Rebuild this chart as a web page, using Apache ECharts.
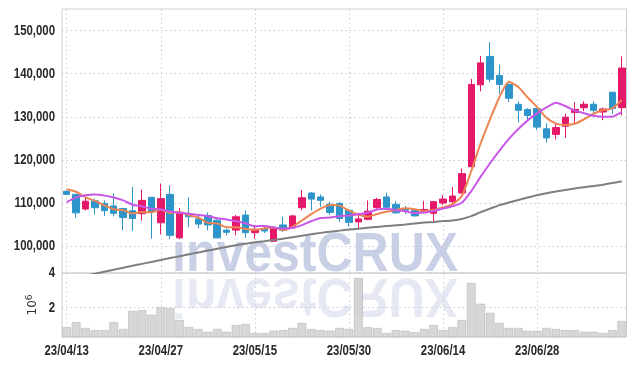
<!DOCTYPE html>
<html><head><meta charset="utf-8">
<script src="https://cdn.jsdelivr.net/npm/echarts@6/dist/echarts.min.js"></script>
<style>html,body{margin:0;padding:0;background:#fff}#c{width:635px;height:366px}</style>
</head><body><div id="c"></div>
<script>
const dates = ['23/04/13','23/04/14','23/04/17','23/04/18','23/04/19','23/04/20','23/04/21','23/04/24','23/04/25','23/04/26',
'23/04/27','23/04/28','23/05/02','23/05/03','23/05/04','23/05/08','23/05/09','23/05/10','23/05/11','23/05/12',
'23/05/15','23/05/16','23/05/17','23/05/18','23/05/19','23/05/22','23/05/23','23/05/24','23/05/25','23/05/26',
'23/05/30','23/05/31','23/06/01','23/06/02','23/06/05','23/06/07','23/06/08','23/06/09','23/06/12','23/06/13',
'23/06/14','23/06/15','23/06/16','23/06/19','23/06/20','23/06/21','23/06/22','23/06/23','23/06/26','23/06/27',
'23/06/28','23/06/29','23/06/30','23/07/03','23/07/04','23/07/05','23/07/06','23/07/07','23/07/10','23/07/11'];
const opens = [112700,112000,108600,110500,109900,109300,108700,108200,107500,111300,
105400,112000,101900,107400,106300,107100,106000,103700,103700,107200,
103100,103900,101100,104900,104200,108900,112300,111400,109700,109900,
108300,105600,106200,108900,111400,109700,108700,108300,107900,107600,
110000,110300,112300,118400,137400,144000,139600,137500,132900,131700,
131900,127200,125900,127800,131000,132100,132900,131100,135700,132100];
const closes = [112000,107700,110400,108900,108200,107600,106600,106400,110600,107900,
111000,102500,107600,106800,105100,104900,101900,103200,106800,103100,
103900,103500,104300,103700,107000,111200,110900,110600,107800,106400,
105500,106300,108100,110800,109000,107700,108300,107000,108500,110300,
110900,111600,116800,137500,142500,138700,137500,134300,131500,130300,
127600,125100,127500,129900,131700,132900,131500,131800,131900,141300];
const lows = [111800,106600,108300,107300,107000,106900,103700,103500,105900,101700,
102700,101600,101600,104400,104100,103700,101800,102500,102500,101900,
101700,103000,101000,103300,104000,108300,108300,109100,107200,105600,
104600,104200,106000,108300,108300,107500,107400,106900,107600,105600,
109500,109900,112200,118300,135900,138000,135400,133400,128700,129200,
126900,124000,124700,125100,128400,131300,130700,129200,130700,130300];
const highs = [112900,112100,111300,111000,110600,112200,108900,113700,113100,111300,
114500,114100,108800,111300,107200,107800,106200,104100,107200,108300,
104900,104500,104400,106800,107200,113000,112500,112000,110300,110200,
108600,107700,110600,111200,112400,110400,109300,108400,110500,110400,
111800,113700,118000,138800,144100,147300,142100,137700,133600,132000,
132000,128500,128600,130700,133400,133600,133600,132100,135700,144000];
const ma5 = [113200,112600,111300,110500,109440,108560,108340,107540,107880,107820,
108500,107680,107920,107160,106600,105380,105260,104380,104380,103980,
103780,104100,104320,103700,104480,105940,107420,108680,109500,109380,
108240,107320,106820,107420,107940,108380,108780,108560,108100,108360,
109000,109660,111620,117420,123860,129420,134600,138100,136900,134460,
132240,129760,128400,128080,128360,129420,130700,131560,131960,133880];
const ma10 = [110200,111300,111800,111950,111700,111250,110600,109600,109200,108630,
108530,108010,107730,107520,107210,106940,106470,106150,105770,105290,
104580,104680,104350,104040,104230,104860,105760,106500,106600,106930,
107090,107370,107750,108460,108660,108310,108050,107690,107760,108150,
108690,109220,110090,112760,116110,119210,122130,124860,127160,129160,
130830,132180,133250,132490,131410,130830,130230,129980,130020,131120];
const ma60 = [92200,92660,93120,93580,94040,94500,94960,95420,95870,96320,
96770,97210,97650,98090,98520,98950,99380,99800,100200,100560,
100860,101140,101420,101700,102050,102400,102750,103060,103340,103580,
103820,104030,104240,104440,104630,104820,105000,105230,105440,105600,
105790,105950,106300,106950,107870,108680,109490,110120,110700,111270,
111810,112270,112660,113010,113360,113660,113940,114240,114630,115050];
const volumes = [0.87,1.16,0.82,0.70,0.70,1.16,0.76,1.80,1.86,1.59,
2.03,1.97,1.28,0.87,0.76,0.60,0.76,0.60,0.99,1.05,
0.53,0.53,0.66,0.70,0.82,1.11,0.76,0.70,0.66,0.82,
0.76,3.71,0.87,0.82,0.53,0.70,0.66,0.57,0.76,0.99,
0.70,0.87,1.28,3.42,2.22,1.70,1.11,0.82,0.82,0.66,
0.66,0.82,0.76,0.70,0.70,0.60,0.60,0.54,0.70,1.22];
const priceTicks = [100000, 110000, 120000, 130000, 140000, 150000];
const volumeTicks = [2, 4];
const dateLabelStep = 10;
const watermark = 'investCRUX';

const UP = '#e5186a', DOWN = '#2d95c9';
const LABEL_FONT = "bold 15px 'Liberation Sans', Arial, sans-serif";
const LABEL_COLOR = '#2a2a2a';
const candles = opens.map((o, i) => [o, closes[i], lows[i], highs[i]]);

const chart = echarts.init(document.getElementById('c'), null, {renderer: 'canvas'});
const splitDotted = {show: true, lineStyle: {color: '#c9ccd8', type: [1.5, 3], width: 1}};
chart.setOption({
  animation: false,
  backgroundColor: '#fff',
  grid: [
    {left: 62, right: 8.5, top: 9, bottom: 93, show: true, borderColor: '#d0d0d0', borderWidth: 1, backgroundColor: 'transparent'},
    {left: 62, right: 8.5, top: 273, bottom: 29, show: true, borderColor: '#d0d0d0', borderWidth: 1, backgroundColor: 'transparent'}
  ],
  xAxis: [
    {type: 'category', data: dates, gridIndex: 0, boundaryGap: true,
     axisLine: {show: false}, axisTick: {show: false}, axisLabel: {show: false},
     splitLine: Object.assign({interval: dateLabelStep - 1, alignWithLabel: true}, splitDotted)},
    {type: 'category', data: dates, gridIndex: 1, boundaryGap: true,
     axisLine: {show: false}, axisTick: {show: false}, axisLabel: {show: false},
     splitLine: Object.assign({interval: dateLabelStep - 1, alignWithLabel: true}, splitDotted)}
  ],
  yAxis: [
    {type: 'value', gridIndex: 0, min: 93750, max: 155000, splitNumber: 6,
     axisLine: {show: false}, axisTick: {show: false, customValues: priceTicks},
     axisLabel: {show: false}, splitLine: splitDotted},
    {type: 'value', gridIndex: 1, min: 0.3, max: 4,
     name: '10{s|6}', nameLocation: 'middle', nameGap: 22, nameRotate: 90,
     nameTextStyle: {color: '#333', fontFamily: "'DejaVu Sans', sans-serif", fontSize: 12,
       rich: {s: {fontSize: 9, verticalAlign: 'top', color: '#333', fontFamily: "'DejaVu Sans', sans-serif", padding: [0, 0, 6, 0]}}},
     axisLine: {show: false}, axisTick: {show: false, customValues: volumeTicks},
     axisLabel: {show: false}, splitLine: splitDotted}
  ],
  series: [
    {type: 'candlestick', name: 'price', xAxisIndex: 0, yAxisIndex: 0, data: candles, barWidth: 7,
     itemStyle: {color: UP, color0: DOWN, borderColor: UP, borderColor0: DOWN, borderWidth: 1}},
    {type: 'line', name: 'MA5', xAxisIndex: 0, yAxisIndex: 0, data: ma5, showSymbol: false, smooth: 0.2,
     lineStyle: {color: '#ee8452', width: 2}, z: 3},
    {type: 'line', name: 'MA10', xAxisIndex: 0, yAxisIndex: 0, data: ma10, showSymbol: false, smooth: 0.2,
     lineStyle: {color: '#c957e6', width: 2}, z: 3},
    {type: 'line', name: 'MA60', xAxisIndex: 0, yAxisIndex: 0, data: ma60, showSymbol: false, smooth: 0.2,
     lineStyle: {color: '#7f7f7f', width: 2}, z: 3},
    {type: 'bar', name: 'volume', xAxisIndex: 1, yAxisIndex: 1, data: volumes, barCategoryGap: '8%',
     itemStyle: {color: 'rgba(205,205,205,0.8)', borderColor: 'rgba(170,170,170,0.9)', borderWidth: 0.5}}
  ]
});

// Tick labels drawn as condensed text, positioned through the chart's own axes.
const fmt = v => v.toLocaleString('en-US');
const gridLeft = chart.convertToPixel({xAxisIndex: 0}, dates[0]) - 4.7;
const labels = [];
priceTicks.forEach(v => labels.push({
  type: 'text', x: gridLeft - 7, y: chart.convertToPixel({yAxisIndex: 0}, v), scaleX: 0.76, silent: true,
  style: {text: fmt(v), font: LABEL_FONT, fill: LABEL_COLOR, align: 'right', verticalAlign: 'middle'}}));
volumeTicks.forEach(v => labels.push({
  type: 'text', x: gridLeft - 7, y: chart.convertToPixel({yAxisIndex: 1}, v), scaleX: 0.76, silent: true,
  style: {text: fmt(v), font: LABEL_FONT, fill: LABEL_COLOR, align: 'right', verticalAlign: 'middle'}}));
const volBottom = chart.convertToPixel({yAxisIndex: 1}, 0.3);
dates.forEach((d, i) => { if (i % dateLabelStep === 0) labels.push({
  type: 'text', x: chart.convertToPixel({xAxisIndex: 1}, d), y: volBottom + 6, scaleX: 0.76, silent: true,
  style: {text: d, font: LABEL_FONT, fill: LABEL_COLOR, align: 'center', verticalAlign: 'top'}}); });
labels.push(
  {type: 'text', left: 172, top: 228.7, z: -10, silent: true, scaleY: 1.1,
   style: {text: watermark, font: "bold 50px 'Liberation Sans', Arial, sans-serif", fill: 'rgba(165,176,214,0.6)'}},
  {type: 'text', left: 172, top: 266.5, z: -10, silent: true, scaleY: -1.1,
   style: {text: watermark, font: "bold 50px 'Liberation Sans', Arial, sans-serif", fill: 'rgba(165,176,214,0.28)'}}
);
chart.setOption({graphic: labels});
</script></body></html>
